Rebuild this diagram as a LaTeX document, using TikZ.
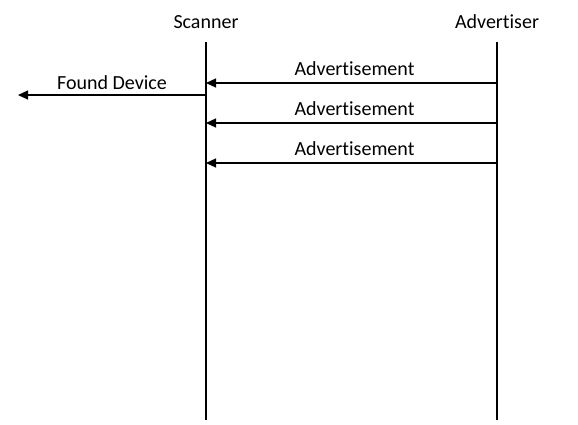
\documentclass[tikz,border=0pt]{standalone}
\usepackage{fontspec}
\setmainfont[Ligatures=CommonOff]{Carlito}
\usetikzlibrary{arrows.meta,positioning}

\begin{document}
\begin{tikzpicture}[x=1pt,y=-1pt,
    lbl/.style={font=\fontsize{20}{24}\selectfont, inner sep=0pt},
    vita/.style={line width=1.2pt},
    msg/.style={line width=1.2pt, -{Triangle[length=10pt,width=9pt]}}]
            \useasboundingbox (0,0) rectangle (578,424);

            % Partecipanti
            \node[lbl] (scanner) at (206,22) {Scanner};
            \node[lbl] (advertiser) at (497,22) {Advertiser};

            % Linee di vita
            \coordinate (s0) at (206,42);
            \coordinate (s1) at (206,420);
            \coordinate (a0) at (497,42);
            \coordinate (a1) at (497,420);
            \draw[vita] (s0) -- (s1);
            \draw[vita] (a0) -- (a1);

            % Messaggi
            \foreach \y [count=\i] in {83,123,163} {
            \coordinate (da\i) at (497,\y);
            \coordinate (ds\i) at (206,\y);
            \draw[msg] (da\i) -- node[lbl,above=7pt,xshift=3pt] {Advertisement} (ds\i);
            }

            % Uscita
            \coordinate (fs) at (206,95);
            \coordinate (fe) at (18,95);
            \draw[msg] (fs) -- node[lbl,above=5pt] {Found Device} (fe);
        \end{tikzpicture}
\end{document}
